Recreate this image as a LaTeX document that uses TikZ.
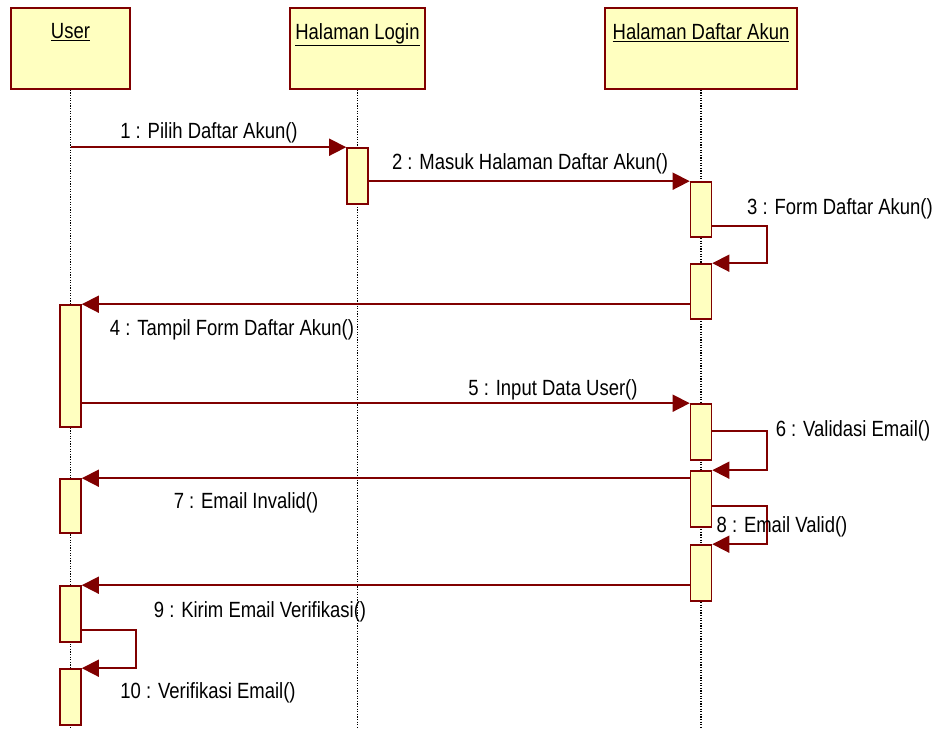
\documentclass[tikz,border=0pt]{standalone}
\usepackage{fontspec}
\setmainfont{Liberation Sans}[FakeStretch=0.84]
\usetikzlibrary{arrows.meta}
\definecolor{umlred}{HTML}{800000}
\definecolor{umlfill}{HTML}{FFFFC0}

\begin{document}
\begin{tikzpicture}[x=1pt, y=-1pt,
  obj/.style={draw=umlred, fill=umlfill, line width=1.6pt, minimum width=#1,
              minimum height=81pt, inner sep=0pt},
  act/.style={draw=umlred, fill=umlfill, line width=1.6pt, minimum width=21pt,
              minimum height=#1, inner sep=0pt},
  life/.style={line width=1.2pt, dash pattern=on 1.2pt off 1.4pt},
  msg/.style={-{Triangle[length=17pt,width=17pt]}, umlred, line width=1.7pt},
  txt/.style={inner sep=0pt, font=\fontsize{22}{26}\selectfont}
]
\useasboundingbox (0,0) rectangle (939,728);

% ---- objects ----
\node[obj=119pt] (user)   at (70.5,48.5)  {};
\node[obj=135pt] (login)  at (357.5,48.5) {};
\node[obj=192pt] (daftar) at (701,48.5)   {};
\node[txt, anchor=north] (user-t)   at ([yshift=-16pt]user.north)   {\underline{User}};
\node[txt, anchor=north] (login-t)  at ([yshift=-16pt]login.north)  {\underline{Halaman Login}};
\node[txt, anchor=north] (daftar-t) at ([yshift=-16pt]daftar.north) {\underline{Halaman Daftar Akun}};

% ---- lifelines ----
\coordinate (bottom) at (0,728);
\draw[life] (user.south)   -- (user.south |- bottom);
\draw[life] (login.south)  -- (login.south |- bottom);
\draw[life] (daftar.south) -- (daftar.south |- bottom);

% ---- activations ----
\node[act=56pt]  (l1) at (357.5,176) {};
\node[act=55pt]  (d1) at (701,209.5) {};
\node[act=55pt]  (d2) at (701,291.5) {};
\node[act=122pt] (u1) at (70.5,366)  {};
\node[act=56pt]  (d3) at (701,432)   {};
\node[act=56pt]  (d4) at (701,499)   {};
\node[act=54pt]  (u2) at (70.5,506)  {};
\node[act=56pt]  (d5) at (701,573)   {};
\node[act=56pt]  (u3) at (70.5,614)  {};
\node[act=56pt]  (u4) at (70.5,697)  {};

% ---- messages ----
\draw[msg] (user.south |- l1.north) -- (l1.north west);
\draw[msg] (l1.east |- d1.north) -- (d1.north west);
\draw[msg] ([yshift=12pt]d1.south east) -- ++(55,0) |- (d2.north east);
\draw[msg] (d2.west |- u1.north) -- (u1.north east);
\draw[msg] (u1.east |- d3.north) -- (d3.north west);
\draw[msg] ([yshift=30pt]d3.south east) -- ++(55,0) |- (d4.north east);
\draw[msg] (d4.west |- u2.north) -- (u2.north east);
\draw[msg] ([yshift=22pt]d4.south east) -- ++(55,0) |- (d5.north east);
\draw[msg] (d5.west |- u3.north) -- (u3.north east);
\draw[msg] ([yshift=13pt]u3.south east) -- ++(54,0) |- (u4.north east);

% ---- message labels ----
\node[txt] (m1)  at (209,133) {1 : Pilih Daftar Akun()};
\node[txt] (m2)  at (530,164) {2 : Masuk Halaman Daftar Akun()};
\node[txt] (m3)  at (840,209) {3 : Form Daftar Akun()};
\node[txt] (m4)  at (232,330) {4 : Tampil Form Daftar Akun()};
\node[txt] (m5)  at (553,390) {5 : Input Data User()};
\node[txt] (m6)  at (853,431) {6 : Validasi Email()};
\node[txt] (m7)  at (246,503) {7 : Email Invalid()};
\node[txt] (m8)  at (782,527) {8 : Email Valid()};
\node[txt] (m9)  at (260,612) {9 : Kirim Email Verifikasi()};
\node[txt] (m10) at (208,693) {10 : Verifikasi Email()};

\end{tikzpicture}
\end{document}
